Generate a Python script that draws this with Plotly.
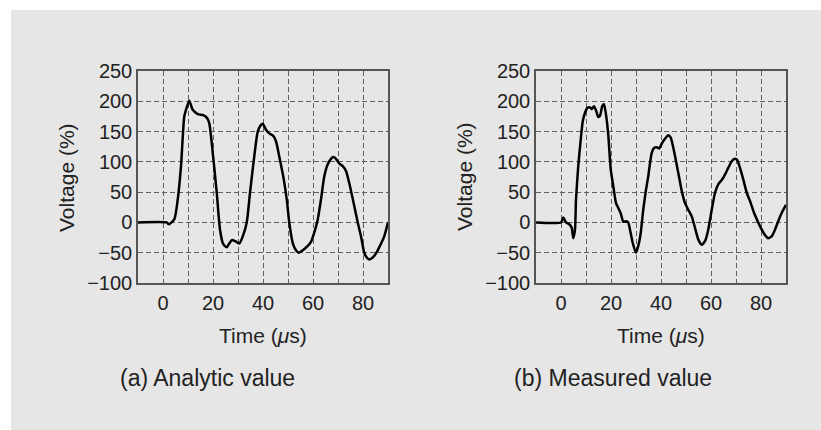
import plotly.graph_objects as go

# ---- data ----
t_analytic = [-10, 1.5, 2.3, 4.5, 5.9, 7.2, 8.5, 9.2, 10.5, 11.9, 13.9, 16.1, 17.5, 18.5, 19.9,
              21.5, 22.8, 24.1, 25.5, 26.5, 27.6, 28.9, 30.5, 31.9, 33.5, 34.8, 36.5, 37.9,
              39.2, 39.9, 41.2, 42.5, 44.1, 45.2, 46.5, 48.1, 49.5, 50.5, 51.9, 53.2, 54.3,
              55.9, 57.6, 59.2, 60.5, 61.9, 63.2, 64.5, 65.9, 67.2, 68.1, 69.2, 70.5, 71.9,
              73.2, 74.5, 76.1, 77.9, 79.2, 80.5, 81.5, 82.5, 83.9, 85.5, 87.2, 88.5, 90]
v_analytic = [0, 0, -3, 5, 38, 93, 175, 186, 201, 186, 179, 177, 173, 164, 115,
              49, -12, -36, -41, -35, -29, -31, -35, -23, 0, 49, 109, 150,
              161, 163, 153, 147, 143, 134, 109, 76, 38, 0, -34, -46, -50,
              -46, -40, -32, -17, 5, 38, 76, 96, 105, 108, 105, 97, 93,
              85, 65, 35, 0, -23, -50, -58, -61, -58, -49, -35, -23, 0]

t_measured = [-10, 0, 0.9, 2.0, 3.3, 4.3, 4.9, 5.6, 6.0, 6.9, 7.9, 8.7, 9.6, 10.5, 11.6, 12.3,
              13.2, 14.0, 14.9, 15.6, 16.5, 17.2, 18.0, 18.9, 19.9, 20.9, 22.0, 22.9, 23.9,
              24.9, 26.0, 26.9, 27.6, 28.7, 30.0, 30.9, 31.9, 32.9, 34.0, 34.9, 35.6, 36.3,
              37.2, 38.3, 39.3, 40.3, 41.6, 42.9, 43.9, 45.2, 46.9, 48.3, 49.6, 50.9, 52.3,
              53.6, 54.9, 56.3, 57.6, 58.9, 60.3, 61.6, 62.9, 64.3, 65.6, 66.9, 68.3, 69.6,
              70.5, 71.6, 72.9, 74.3, 75.9, 77.2, 78.9, 80.3, 81.6, 82.9, 84.3, 85.6, 86.9,
              88.3, 90]
v_measured = [0, 0, 8, 0, -3, -9, -26, -12, 38, 93, 137, 167, 181, 189, 190, 187,
              192, 185, 174, 176, 192, 195, 178, 145, 87, 60, 32, 24, 15,
              1, 2, 0, -12, -34, -50, -39, -17, 21, 54, 76, 98, 115,
              123, 124, 122, 130, 138, 144, 140, 118, 82, 52, 32, 21, 10,
              -9, -28, -37, -31, -12, 21, 49, 63, 70, 79, 90, 101, 105,
              103, 90, 71, 49, 32, 16, 0, -12, -21, -26, -23, -12, 2,
              16, 29]

x_ticks = [0, 20, 40, 60, 80]
y_ticks = [-100, -50, 0, 50, 100, 150, 200, 250]
y_tick_text = ["\u2212100", "\u221250", "0", "50", "100", "150", "200", "250"]
subtitles = ["(a) Analytic value", "(b) Measured value"]

W, H = 821, 430
FONT = "Liberation Sans"
TXT = "#222222"
GRID = "#606060"
DASH = "5px,3px"

fig = go.Figure()
fig.add_trace(go.Scatter(x=t_analytic, y=v_analytic, mode="lines",
                         line=dict(color="black", width=2.5, shape="spline", smoothing=0.6),
                         xaxis="x", yaxis="y", showlegend=False))
fig.add_trace(go.Scatter(x=t_measured, y=v_measured, mode="lines",
                         line=dict(color="black", width=2.5, shape="spline", smoothing=0.5),
                         xaxis="x2", yaxis="y2", showlegend=False))

def px_x(p):
    return p / W

def px_y(p):
    return 1 - p / H

xdoms = [[px_x(138), px_x(388)], [px_x(536), px_x(786)]]
ydom = [px_y(283), px_y(71)]

common_x = dict(range=[-10, 90], tickmode="array", tickvals=x_ticks,
                showgrid=True, gridcolor=GRID, gridwidth=1, griddash=DASH,
                minor=dict(dtick=10, tick0=0, showgrid=True, gridcolor=GRID,
                           gridwidth=1, griddash=DASH),
                showline=True, mirror=True, linecolor="#555555", linewidth=1.5,
                ticks="", zeroline=False, ticklabelstandoff=1, automargin=False,
                tickfont=dict(family=FONT, size=20, color=TXT), fixedrange=True)
common_y = dict(range=[-100, 250], tickmode="array", tickvals=y_ticks, ticktext=y_tick_text,
                showgrid=True, gridcolor=GRID, gridwidth=1, griddash=DASH,
                showline=True, mirror=True, linecolor="#555555", linewidth=1.5,
                ticks="", zeroline=False, ticklabelstandoff=0, automargin=False,
                tickfont=dict(family=FONT, size=20, color=TXT), fixedrange=True)

fig.update_layout(
    template="none",
    width=W, height=H, autosize=False,
    margin=dict(l=0, r=0, t=0, b=0, pad=0),
    paper_bgcolor="white", plot_bgcolor="white",
    xaxis=dict(domain=xdoms[0], anchor="y", **common_x),
    yaxis=dict(domain=ydom, anchor="x", **common_y),
    xaxis2=dict(domain=xdoms[1], anchor="y2", **common_x),
    yaxis2=dict(domain=ydom, anchor="x2", **common_y),
    shapes=[dict(type="rect", xref="paper", yref="paper", layer="below",
                 x0=px_x(11), x1=1.0, y0=0.0, y1=px_y(10),
                 fillcolor="#e6e6e6", line=dict(width=0))],
)

annots = []
for i, xd in enumerate(xdoms):
    cx = (xd[0] + xd[1]) / 2
    annots.append(dict(text="Time (<i>\u03bc</i>s)", x=cx, y=px_y(335), xref="paper", yref="paper",
                       showarrow=False, xanchor="center", yanchor="middle",
                       font=dict(family=FONT, size=21, color=TXT)))
    annots.append(dict(text="Voltage (%)", x=xd[0] - px_x(71), y=px_y(177), xref="paper",
                       yref="paper", showarrow=False, textangle=-90,
                       xanchor="center", yanchor="middle",
                       font=dict(family=FONT, size=21, color=TXT)))
    annots.append(dict(text=subtitles[i], x=[px_x(208), px_x(613)][i], y=px_y(378),
                       xref="paper", yref="paper", showarrow=False,
                       xanchor="center", yanchor="middle",
                       font=dict(family=FONT, size=23, color=TXT)))
fig.update_layout(annotations=annots)

fig.write_html("out.html")
